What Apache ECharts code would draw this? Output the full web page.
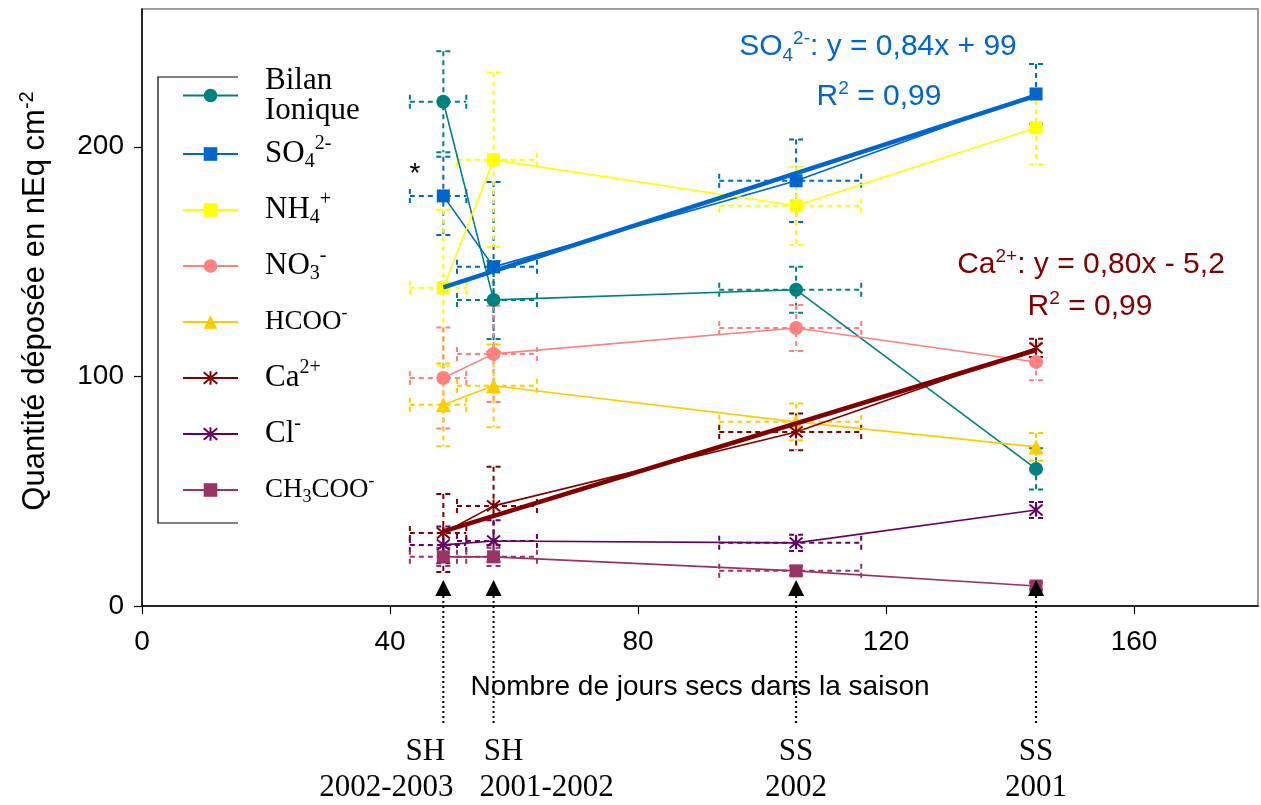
<!DOCTYPE html>
<html><head><meta charset="utf-8">
<script src="https://cdn.jsdelivr.net/npm/echarts@6/dist/echarts.min.js"></script>
<style>html,body{margin:0;padding:0;background:#fff}#c{width:1261px;height:805px}</style>
</head><body><div id="c"></div>
<script>
// ---- data ----
const dryDays     = [48.6, 56.7, 105.5, 144.2];
const dryDaysLow  = [43.2, 50.8, 93.1, 144.2];
const dryDaysHigh = [52.3, 63.7, 116.0, 144.2];
const seasonTop    = ['SH', 'SH', 'SS', 'SS'];
const seasonBottom = ['2002-2003', '2001-2002', '2002', '2001'];

const bilan     = [219.6, 133.3, 137.7, 59.7];
const bilanErr  = [22, 17, 10, 9];
const so4       = [178.6, 147.7, 185.2, 223.0];
const so4Err    = [17, 37, 18, 13];
const nh4       = [138.6, 194.3, 174.3, 208.3];
const nh4Err    = [34, 38, 17, 16];
const no3       = [99.3, 109.8, 121.1, 106.3];
const no3Err    = [22, 21, 10, 8];
const hcoo      = [87.6, 95.9, 80.2, 69.3];
const hcooErr   = [18, 18, 8, 6];
const ca        = [31.8, 43.6, 75.8, 112.4];
const caErr     = [17, 17, 8, 4];
const cl        = [26.6, 28.3, 27.5, 41.8];
const clErr     = [8, 9, 3.5, 3.5];
const ch3coo    = [21.4, 21.4, 15.3, 8.7];
const ch3cooErr = [4, 4, 2, 1.5];

const so4TrendX = [48.6, 144.2];
const so4TrendY = [138.8, 222.3];
const caTrendX  = [48.6, 144.2];
const caTrendY  = [32.5, 111.5];

const xAxisMin = 0, xAxisMax = 180, xAxisStep = 40;
const xTickValues = [0, 40, 80, 120, 160];
const yAxisMin = 0, yAxisMax = 260, yAxisStep = 100;
const yTickValues = [0, 100, 200];

// ---- styling ----
const SANS = '"Liberation Sans", Arial, sans-serif';
const SERIF = '"Liberation Serif", "Times New Roman", serif';
const ASTER = 'path://M0,0L10,10M10,0L0,10M5,-1L5,11';

const ions = [
  {name: 'Bilan Ionique', v: bilan,  e: bilanErr,  color: '#008080', symbol: 'circle',   size: 14},
  {name: 'SO4',           v: so4,    e: so4Err,    color: '#0066CC', symbol: 'rect',     size: 13},
  {name: 'NH4',           v: nh4,    e: nh4Err,    color: '#FFFF00', symbol: 'rect',     size: 13},
  {name: 'NO3',           v: no3,    e: no3Err,    color: '#FF8080', symbol: 'circle',   size: 14},
  {name: 'HCOO',          v: hcoo,   e: hcooErr,   color: '#FFCC00', symbol: 'triangle', size: 15},
  {name: 'Ca',            v: ca,     e: caErr,     color: '#800000', symbol: ASTER,      size: 13},
  {name: 'Cl',            v: cl,     e: clErr,     color: '#660066', symbol: ASTER,      size: 13},
  {name: 'CH3COO',        v: ch3coo, e: ch3cooErr, color: '#993366', symbol: 'rect',     size: 13}
];

const legendLabels = {
  'Bilan Ionique': '{sb| }{b|Bilan}\n{sb| }{b|Ionique}',
  'SO4':    '{sp| }{n|SO}{sub|4}{sup|2-}',
  'NH4':    '{sp| }{n|NH}{sub|4}{sup|+}',
  'NO3':    '{sp| }{n|NO}{sub|3}{sup|-}',
  'HCOO':   '{sp| }{s|HCOO}{ssup|-}',
  'Ca':     '{sp| }{n|Ca}{sup|2+}',
  'Cl':     '{sp| }{n|Cl}{sup|-}',
  'CH3COO': '{sp| }{s|CH}{ssub|3}{s|COO}{ssup|-}'
};

const labelOffsetTop = [-18, 10, 0, 0];
const labelOffsetBottom = [-57, 53, 0, 0];

function errorSeries(ion) {
  return {
    type: 'custom', silent: true, z: 1, clip: false,
    data: ion.v.map((val, i) => [dryDays[i], val, ion.e[i], dryDaysLow[i], dryDaysHigh[i]]),
    encode: {x: 0, y: 1},
    renderItem: function (params, api) {
      const x = api.value(0), y = api.value(1), e = api.value(2);
      const xl = api.value(3), xh = api.value(4);
      const p = api.coord([x, y]);
      const t = api.coord([x, y + e]);
      const b = api.coord([x, y - e]);
      const st = {stroke: ion.color, lineWidth: 2, lineDash: [5, 4], fill: null};
      const cap = 7;
      const ln = (x1, y1, x2, y2) => ({type: 'line', shape: {x1, y1, x2, y2}, style: st});
      const kids = [
        ln(p[0], t[1], p[0], b[1]),
        ln(p[0] - cap, t[1], p[0] + cap, t[1]),
        ln(p[0] - cap, b[1], p[0] + cap, b[1])
      ];
      if (xh > xl) {
        const l = api.coord([xl, y]), r = api.coord([xh, y]);
        kids.push(ln(l[0], p[1], r[0], p[1]));
        kids.push(ln(l[0], p[1] - cap, l[0], p[1] + cap));
        kids.push(ln(r[0], p[1] - cap, r[0], p[1] + cap));
      }
      return {type: 'group', children: kids};
    }
  };
}

function lineSeries(ion) {
  const isAst = ion.symbol === ASTER;
  return {
    name: ion.name, type: 'line', z: 3,
    data: ion.v.map((val, i) => [dryDays[i], val]),
    symbol: ion.symbol, symbolSize: ion.size,
    lineStyle: {color: ion.color, width: 1.6},
    itemStyle: isAst ? {color: ion.color, borderColor: ion.color, borderWidth: 2}
                     : {color: ion.color, borderWidth: 0},
    emphasis: {disabled: true},
    animation: false
  };
}

function trendSeries(xs, ys, color) {
  return {
    name: 'trend', type: 'line', z: 4, symbol: 'none',
    data: xs.map((x, i) => [x, ys[i]]),
    lineStyle: {color: color, width: 4.5},
    emphasis: {disabled: true}, animation: false
  };
}

const seasonSeries = {
  type: 'custom', silent: true, z: 6, clip: false,
  data: dryDays.map((d, i) => [d, 0, i]),
  encode: {x: 0, y: 1},
  renderItem: function (params, api) {
    const i = params.dataIndex;
    const p = api.coord([api.value(0), 0]);
    return {type: 'group', children: [
      {type: 'polygon', shape: {points: [[p[0], p[1] - 26], [p[0] - 8, p[1] - 10], [p[0] + 8, p[1] - 10]]},
       style: {fill: '#000'}},
      {type: 'line', shape: {x1: p[0], y1: p[1] - 10, x2: p[0], y2: p[1] + 120},
       style: {stroke: '#000', lineWidth: 2, lineDash: [2, 3]}},
      {type: 'text', style: {text: seasonTop[i], x: p[0] + labelOffsetTop[i], y: p[1] + 146,
        align: 'center', verticalAlign: 'middle', font: '31px ' + SERIF, fill: '#000'}},
      {type: 'text', style: {text: seasonBottom[i], x: p[0] + labelOffsetBottom[i], y: p[1] + 182,
        align: 'center', verticalAlign: 'middle', font: '31px ' + SERIF, fill: '#000'}}
    ]};
  }
};

function annRich(color, size) {
  const f = size || 30;
  const s = Math.round(f * 0.63);
  return {
    a:   {fontFamily: SANS, fontSize: f, lineHeight: 36, fill: color, color: color},
    sub: {fontFamily: SANS, fontSize: s, height: s, verticalAlign: 'bottom', fill: color, color: color},
    sup: {fontFamily: SANS, fontSize: s, height: s, verticalAlign: 'top', fill: color, color: color}
  };
}
function annText(x, y, text, color) {
  return {type: 'text', x: x, y: y, z: 10,
    style: {text: text, rich: annRich(color), align: 'center', verticalAlign: 'middle', fill: color}};
}

const series = [];
ions.forEach(ion => series.push(errorSeries(ion)));
ions.forEach(ion => series.push(lineSeries(ion)));
series.push(trendSeries(so4TrendX, so4TrendY, '#0066CC'));
series.push(trendSeries(caTrendX, caTrendY, '#800000'));
series.push(seasonSeries);

const option = {
  animation: false,
  backgroundColor: '#fff',
  grid: {left: 142, right: 3, top: 9, bottom: 199, show: true, borderColor: '#808080', borderWidth: 1.5},
  xAxis: {
    type: 'value', min: xAxisMin, max: xAxisMax, interval: xAxisStep,
    axisLine: {show: true, onZero: false, lineStyle: {color: '#000', width: 1.5}},
    axisTick: {show: true, length: 8, customValues: xTickValues, lineStyle: {color: '#000', width: 1.2}},
    axisLabel: {margin: 22, fontFamily: SANS, fontSize: 28, color: '#000', customValues: xTickValues},
    splitLine: {show: false},
    name: 'Nombre de jours secs dans la saison', nameLocation: 'middle', nameGap: 67,
    nameTextStyle: {fontFamily: SANS, fontSize: 28, color: '#000'}
  },
  yAxis: {
    type: 'value', min: yAxisMin, max: yAxisMax, interval: yAxisStep,
    axisLine: {show: true, onZero: false, lineStyle: {color: '#000', width: 1.5}},
    axisTick: {show: true, length: 8, customValues: yTickValues, lineStyle: {color: '#000', width: 1.2}},
    axisLabel: {margin: 18, fontFamily: SANS, fontSize: 28, color: '#000', customValues: yTickValues},
    splitLine: {show: false}
  },
  legend: {
    orient: 'vertical', left: 182, top: 65, padding: 0, itemGap: 0,
    itemWidth: 55, itemHeight: 17,
    data: ions.map(i => i.name),
    selectedMode: false,
    formatter: name => legendLabels[name],
    textStyle: {
      color: '#000',
      rich: {
        sp:   {width: 22, fontSize: 56, lineHeight: 56},
        sb:   {width: 22, fontSize: 30, lineHeight: 30},
        b:    {fontFamily: SERIF, fontSize: 31, lineHeight: 30, color: '#000'},
        n:    {fontFamily: SERIF, fontSize: 31, lineHeight: 56, color: '#000'},
        s:    {fontFamily: SERIF, fontSize: 27, lineHeight: 56, color: '#000'},
        sub:  {fontFamily: SERIF, fontSize: 20, height: 40, verticalAlign: 'bottom', color: '#000'},
        sup:  {fontFamily: SERIF, fontSize: 20, height: 36, verticalAlign: 'top', color: '#000'},
        ssub: {fontFamily: SERIF, fontSize: 18, height: 42, verticalAlign: 'bottom', color: '#000'},
        ssup: {fontFamily: SERIF, fontSize: 18, height: 38, verticalAlign: 'top', color: '#000'}
      }
    }
  },
  graphic: [
    {type: 'polyline', z: 10, shape: {points: [[238, 77], [158, 77], [158, 523], [238, 523]]},
     style: {stroke: '#000', lineWidth: 1.2, fill: null}},
    annText(878, 47, '{a|SO}{sub|4}{sup|2-}{a|: y = 0,84x + 99}', '#0066CC'),
    annText(879, 97, '{a|R}{sup|2}{a| = 0,99}', '#0066CC'),
    annText(1091, 265, '{a|Ca}{sup|2+}{a|: y = 0,80x - 5,2}', '#800000'),
    annText(1090, 307, '{a|R}{sup|2}{a| = 0,99}', '#800000'),
    {type: 'text', x: 415, y: 174, z: 10,
     style: {text: '*', font: '28px ' + SANS, fill: '#000', align: 'center', verticalAlign: 'middle'}},
    {type: 'text', x: 35, y: 301, rotation: Math.PI / 2, z: 10,
     style: {text: '{a|Quantité déposée en nEq cm}{sup|-2}', rich: annRich('#000', 31),
       align: 'center', verticalAlign: 'middle', fill: '#000'}}
  ],
  series: series
};

const chart = echarts.init(document.getElementById('c'), null, {renderer: 'canvas'});
chart.setOption(option);
</script>
</body></html>
